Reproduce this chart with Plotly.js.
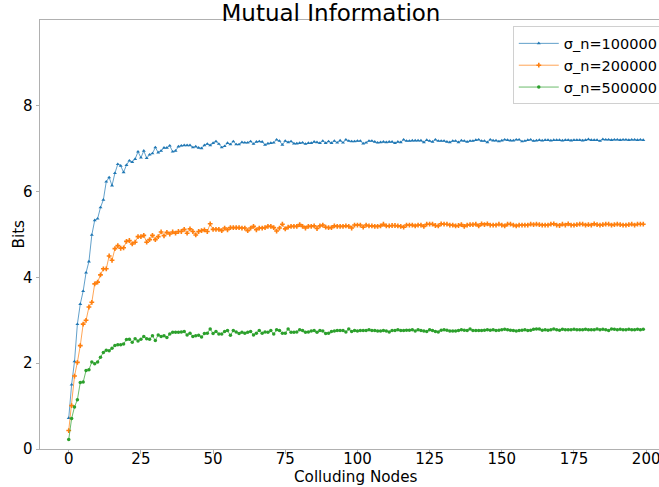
<!DOCTYPE html>
<html>
<head>
<meta charset="utf-8">
<script src="https://cdn.plot.ly/plotly-3.0.1.min.js"></script>
<style>
html, body { margin: 0; padding: 0; overflow: hidden; background: #fff; }
#chart { width: 680px; height: 487px; }
</style>
</head>
<body>
<div id="chart"></div>
<script>
// Series names
const seriesNames = ["σ_n=100000", "σ_n=200000", "σ_n=500000"];

// Colluding nodes 0..199
const colludingNodes = [];
for (let i = 0; i < 200; i++) colludingNodes.push(i);

const bits100000 = [
0.72,1.50,2.04,2.91,3.38,3.68,4.11,4.37,4.99,5.33,
5.37,5.63,5.81,6.23,6.33,6.14,6.43,6.64,6.60,6.45,
6.62,6.72,6.69,6.76,6.93,6.79,6.95,6.78,6.86,6.89,
7.03,6.91,6.95,7.02,7.02,7.07,6.93,6.95,7.05,7.07,
7.08,7.08,7.08,7.03,7.05,7.02,7.01,7.08,7.11,7.08,
7.13,7.17,7.11,7.03,7.06,7.13,7.10,7.17,7.10,7.10,
7.15,7.14,7.14,7.17,7.11,7.16,7.17,7.16,7.09,7.12,
7.13,7.14,7.21,7.18,7.09,7.18,7.15,7.17,7.12,7.12,
7.13,7.14,7.11,7.13,7.13,7.16,7.15,7.13,7.18,7.13,
7.17,7.13,7.18,7.14,7.19,7.14,7.21,7.18,7.17,7.17,
7.18,7.18,7.12,7.14,7.18,7.18,7.16,7.14,7.15,7.16,
7.15,7.16,7.16,7.13,7.16,7.15,7.21,7.18,7.18,7.19,
7.19,7.19,7.19,7.15,7.20,7.18,7.16,7.21,7.18,7.18,
7.18,7.16,7.15,7.18,7.18,7.15,7.19,7.18,7.16,7.18,
7.18,7.20,7.21,7.18,7.18,7.15,7.21,7.19,7.19,7.17,
7.19,7.21,7.20,7.19,7.19,7.21,7.21,7.17,7.18,7.20,
7.21,7.18,7.19,7.20,7.19,7.20,7.20,7.19,7.20,7.20,
7.20,7.19,7.20,7.20,7.19,7.20,7.20,7.20,7.19,7.20,
7.22,7.20,7.20,7.20,7.18,7.22,7.21,7.21,7.20,7.21,
7.21,7.20,7.21,7.21,7.20,7.21,7.21,7.20,7.21,7.20
];

const bits200000 = [
0.43,1.01,1.70,2.02,2.41,2.91,3.00,3.31,3.42,3.85,
3.89,4.06,4.20,4.20,4.50,4.40,4.67,4.74,4.68,4.69,
4.84,4.86,4.78,4.82,4.95,4.95,4.98,4.82,4.88,4.98,
4.88,4.95,5.06,4.97,5.05,5.01,5.06,5.03,5.07,5.07,
5.12,5.03,5.13,5.07,4.99,5.07,5.09,5.11,5.07,5.25,
5.12,5.12,5.12,5.09,5.15,5.11,5.16,5.16,5.16,5.16,
5.15,5.15,5.09,5.15,5.19,5.11,5.15,5.15,5.16,5.19,
5.19,5.16,5.08,5.15,5.24,5.13,5.17,5.19,5.19,5.19,
5.23,5.19,5.15,5.19,5.19,5.20,5.14,5.20,5.22,5.17,
5.16,5.16,5.20,5.19,5.19,5.19,5.20,5.19,5.15,5.22,
5.22,5.22,5.17,5.22,5.20,5.20,5.19,5.19,5.20,5.24,
5.20,5.20,5.21,5.21,5.20,5.19,5.17,5.22,5.22,5.22,
5.20,5.22,5.22,5.19,5.24,5.24,5.24,5.21,5.20,5.25,
5.24,5.24,5.22,5.22,5.20,5.21,5.23,5.19,5.22,5.23,
5.23,5.24,5.20,5.25,5.23,5.25,5.22,5.22,5.22,5.24,
5.22,5.20,5.24,5.24,5.22,5.20,5.22,5.22,5.22,5.22,
5.24,5.23,5.24,5.23,5.22,5.22,5.22,5.24,5.25,5.22,
5.21,5.24,5.22,5.25,5.22,5.22,5.23,5.24,5.24,5.22,
5.23,5.22,5.25,5.23,5.22,5.23,5.24,5.24,5.22,5.23,
5.24,5.23,5.22,5.22,5.23,5.24,5.22,5.24,5.24,5.24
];

const bits500000 = [
0.22,0.71,0.98,1.15,1.55,1.56,1.83,1.85,2.03,1.99,
2.03,2.14,2.25,2.30,2.29,2.35,2.41,2.43,2.43,2.45,
2.55,2.56,2.49,2.57,2.52,2.56,2.62,2.57,2.56,2.64,
2.53,2.66,2.62,2.64,2.60,2.68,2.72,2.72,2.72,2.73,
2.74,2.66,2.70,2.62,2.64,2.65,2.61,2.69,2.70,2.80,
2.69,2.74,2.68,2.68,2.74,2.76,2.65,2.76,2.73,2.69,
2.72,2.70,2.72,2.74,2.66,2.70,2.76,2.70,2.73,2.72,
2.76,2.68,2.78,2.76,2.70,2.70,2.80,2.72,2.72,2.73,
2.78,2.76,2.72,2.73,2.75,2.76,2.72,2.76,2.75,2.69,
2.70,2.74,2.75,2.76,2.76,2.76,2.73,2.80,2.74,2.76,
2.75,2.76,2.76,2.76,2.78,2.76,2.76,2.75,2.75,2.76,
2.75,2.73,2.76,2.76,2.78,2.76,2.76,2.77,2.77,2.78,
2.75,2.78,2.76,2.75,2.74,2.78,2.76,2.74,2.73,2.77,
2.78,2.77,2.75,2.75,2.75,2.76,2.78,2.77,2.76,2.80,
2.76,2.76,2.76,2.76,2.77,2.78,2.77,2.78,2.76,2.77,
2.78,2.79,2.78,2.77,2.76,2.75,2.76,2.77,2.78,2.76,
2.77,2.79,2.80,2.80,2.77,2.78,2.77,2.78,2.80,2.78,
2.77,2.79,2.78,2.78,2.78,2.79,2.78,2.78,2.78,2.79,
2.78,2.78,2.78,2.80,2.78,2.79,2.78,2.76,2.80,2.79,
2.78,2.79,2.78,2.78,2.79,2.78,2.78,2.79,2.78,2.79
];

const xTickVals = [0, 25, 50, 75, 100, 125, 150, 175, 200];
const yTickVals = [0, 2, 4, 6, 8];

const FONT = "DejaVu Sans, sans-serif";

function mk(name, y, color, lineColor, symbol, size) {
  return {
    type: "scatter", mode: "lines+markers", name: name,
    x: colludingNodes, y: y,
    line: { color: lineColor, width: 1 },
    marker: { color: color, symbol: symbol, size: size, line: { width: 0 } }
  };
}

const traces = [
  mk(seriesNames[0], bits100000, "#1f77b4", "rgba(31,119,180,0.7)", "triangle-up", 3.5),
  mk(seriesNames[1], bits200000, "#ff7f0e", "rgba(255,127,14,0.7)", "cross", 4),
  mk(seriesNames[2], bits500000, "#2ca02c", "rgba(44,160,44,0.7)", "circle", 3.5)
];

const axisCommon = {
  showgrid: false, zeroline: false,
  showline: true, linecolor: "#b0b0b0", linewidth: 1,
  ticks: "outside", ticklen: 3.5, tickwidth: 1, tickcolor: "#b0b0b0",
  tickfont: { family: FONT, size: 15, color: "#000" }
};

const layout = {
  width: 680, height: 487,
  margin: { l: 40, r: 8, t: 20, b: 38 },
  paper_bgcolor: "#fff", plot_bgcolor: "#fff",
  font: { family: FONT, color: "#000" },
  title: {
    text: "Mutual Information",
    font: { family: FONT, size: 23, color: "#000" },
    xref: "paper", x: 0.4604, xanchor: "center",
    yref: "container", y: 0.973, yanchor: "middle"
  },
  xaxis: Object.assign({}, axisCommon, {
    range: [-9.95, 208.95], tickvals: xTickVals, mirror: true,
    ticklabelstandoff: -8
  }),
  yaxis: Object.assign({}, axisCommon, {
    range: [0, 10], tickvals: yTickVals, mirror: true
  }),
  annotations: [
    { text: "Colluding Nodes", xref: "paper", yref: "paper",
      x: 0.5, y: -0.0605, xanchor: "center", yanchor: "middle", yshift: -2,
      showarrow: false, font: { family: FONT, size: 15.2, color: "#000" } },
    { text: "Bits", xref: "paper", yref: "paper",
      x: 0, xshift: -22, y: 0.5, xanchor: "center", yanchor: "middle", textangle: -90,
      showarrow: false, font: { family: FONT, size: 15.2, color: "#000" } }
  ],
  showlegend: true,
  legend: {
    x: 0.987, xanchor: "right", y: 0.985, yanchor: "top",
    bgcolor: "rgba(255,255,255,0.8)", bordercolor: "#d0d0d0", borderwidth: 1,
    font: { family: FONT, size: 14.5, color: "#000" },
    itemwidth: 40,
    tracegroupgap: 2
  }
};

Plotly.newPlot("chart", traces, layout, { displayModeBar: false, staticPlot: true });
</script>
</body>
</html>
